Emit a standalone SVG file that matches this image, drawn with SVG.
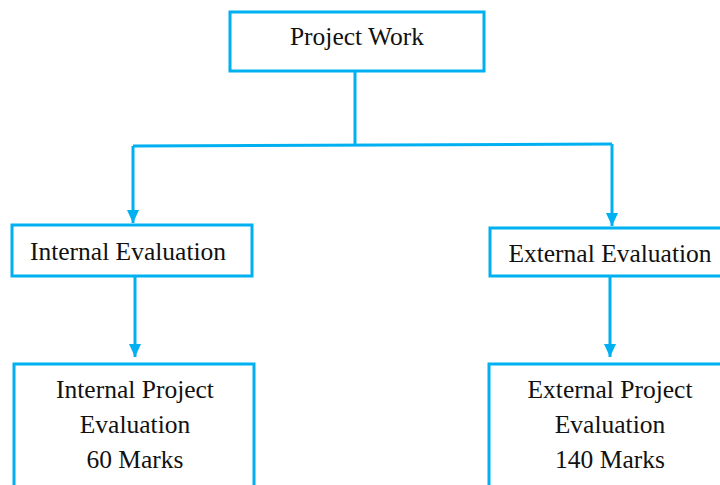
<svg xmlns="http://www.w3.org/2000/svg" width="720" height="485" viewBox="0 0 720 485">
<style>
.box{fill:#ffffff;stroke:#00B0F0;stroke-width:3}
.ln{fill:none;stroke:#00B0F0;stroke-width:3}
.t{font-family:"Liberation Serif","Times New Roman",serif;font-size:25.5px;fill:#111111;text-anchor:middle}
</style>
<defs>
<marker id="ah" markerUnits="userSpaceOnUse" markerWidth="14" markerHeight="14" viewBox="0 0 14 14" refX="13" refY="7" orient="auto">
<path d="M0,1 L13,7 L0,13 Z" fill="#00B0F0"/>
</marker>
</defs>
<g id="connectors">
<path class="ln" d="M355,71 L355,145"/>
<path class="ln" d="M133,146 L612,144"/>
<path class="ln" d="M133,146 L133,223" marker-end="url(#ah)"/>
<path class="ln" d="M612,144 L612,226" marker-end="url(#ah)"/>
<path class="ln" d="M135,276 L135,357" marker-end="url(#ah)"/>
<path class="ln" d="M610,276 L610,357" marker-end="url(#ah)"/>
</g>
<g id="project-work">
<rect class="box" x="230" y="12" width="254" height="59"/>
<text class="t" x="357" y="45">Project Work</text>
</g>
<g id="internal-evaluation">
<rect class="box" x="12" y="225" width="240" height="51"/>
<text class="t" x="128" y="260">Internal Evaluation</text>
</g>
<g id="external-evaluation">
<rect class="box" x="490" y="228" width="240" height="48"/>
<text class="t" x="610" y="262">External Evaluation</text>
</g>
<g id="internal-project">
<rect class="box" x="14" y="364" width="240" height="140"/>
<text class="t" x="135" y="398">Internal Project</text>
<text class="t" x="135" y="433">Evaluation</text>
<text class="t" x="135" y="468">60 Marks</text>
</g>
<g id="external-project">
<rect class="box" x="489" y="364" width="240" height="140"/>
<text class="t" x="610" y="398">External Project</text>
<text class="t" x="610" y="433">Evaluation</text>
<text class="t" x="610" y="468">140 Marks</text>
</g>
</svg>
